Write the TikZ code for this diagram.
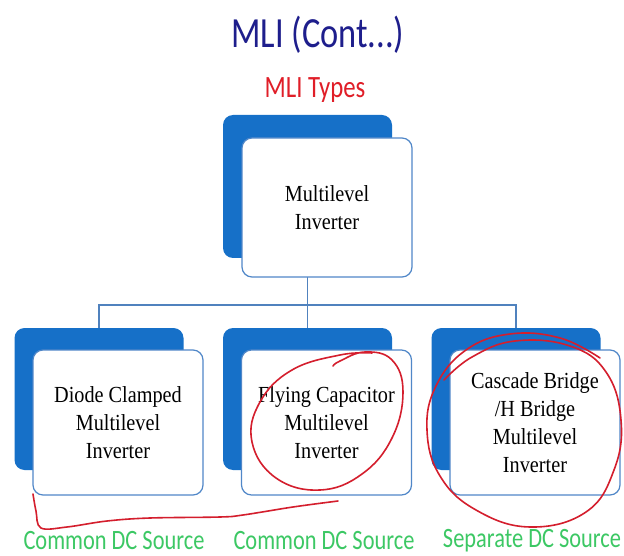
\documentclass[tikz,border=0pt]{standalone}
\usepackage{fontspec}
\newfontfamily\sansf[FakeStretch=0.8]{Carlito}
\newfontfamily\serf[FakeStretch=0.88]{Liberation Serif}
\definecolor{titleblue}{RGB}{30,30,140}
\definecolor{typered}{RGB}{224,30,40}
\definecolor{backblue}{RGB}{22,112,200}
\definecolor{frontedge}{RGB}{80,135,200}
\definecolor{linkblue}{RGB}{80,130,190}
\definecolor{srcgreen}{RGB}{60,200,100}
\definecolor{inkred}{RGB}{212,30,45}
\tikzset{
  backbox/.style={draw=none, fill=backblue, rounded corners=10pt, minimum width=169pt, minimum height=142pt, inner sep=0pt},
  frontbox/.style={draw=frontedge, line width=1.2pt, fill=white, rounded corners=10pt, minimum width=170pt, minimum height=142pt, inner sep=2pt, align=center, font=\serf\fontsize{23}{28}\selectfont},
  link/.style={draw=linkblue, line width=1.3pt},
  srclabel/.style={text=srcgreen, font=\sansf\fontsize{28}{30}\selectfont, inner sep=0pt},
  ink/.style={draw=inkred, line width=1.6pt, line cap=round, line join=round}
}
\begin{document}
\begin{tikzpicture}[x=1pt, y=-1pt]
\useasboundingbox (0,0) rectangle (624,556);
\fill[white] (0,0) rectangle (624,556);
% titles
\node[text=titleblue, font=\sansf\fontsize{43}{48}\selectfont, inner sep=0pt] (title) at (318,35) {MLI (Cont...)};
\node[text=typered, font=\sansf\fontsize{31}{36}\selectfont, inner sep=0pt] (types) at (315,90) {MLI Types};
% back boxes
\node[backbox, minimum height=143pt] (tb) at (307.5,186.5) {};
\node[backbox] (lb) at (99,399) {};
\node[backbox] (mb) at (307.5,399) {};
\node[backbox] (rb) at (516,399) {};
% connectors
\coordinate (j) at (307.5,305);
\draw[link] (tb.south) -- (j);
\draw[link] (lb.north) |- (j) -| (rb.north);
\draw[link] (j) -- (mb.north);
% front boxes
\node[frontbox, minimum height=139pt] (tf) at (327,207.5) {Multilevel\\Inverter};
\node[frontbox, minimum height=145pt] (lf) at (118,422.5) {Diode Clamped\\Multilevel\\Inverter};
\node[frontbox, minimum height=145pt] (mf) at (326.5,422.5) {Flying Capacitor\\Multilevel\\Inverter};
\node[frontbox, minimum height=145pt] (rf) at (535,422.5) {Cascade Bridge\\/H Bridge\\Multilevel\\Inverter};
% source labels
\node[srclabel] (ls) at (114,541) {Common DC Source};
\node[srclabel] (ms) at (324,541) {Common DC Source};
\node[srclabel] (rs) at (532,541) {Separate DC Source};
% red hand-drawn annotations
\draw[ink] plot[smooth, tension=0.7] coordinates {(333,366) (340,361) (365,352) (392,360) (403,392) (392,438) (362,474) (320,490) (276,478) (252,442) (260,402) (292,370) (340,355) (372,353)};
\draw[ink] plot[smooth, tension=0.7] coordinates {(600,358) (560,338) (510,334) (466,350) (436,386) (427,430) (440,476) (476,510) (530,527) (586,512) (614,470) (621,420) (606,372) (570,346) (515,341) (472,357) (444,380)};
\draw[ink] plot[smooth, tension=0.6] coordinates {(33,494) (36,511) (41,528) (67,527) (107,521) (150,518) (220,517) (243,515) (293,507) (338,501)};
\end{tikzpicture}
\end{document}
